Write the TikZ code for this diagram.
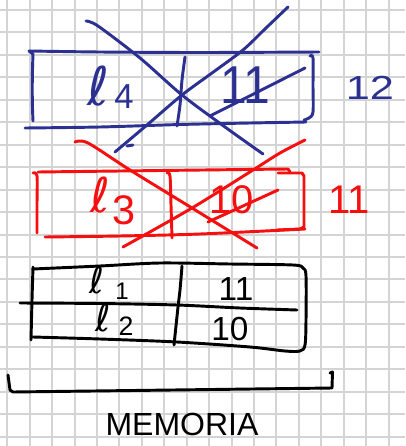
\documentclass[tikz,border=0pt]{standalone}
\usepackage{fontspec}
\setmainfont{Liberation Sans}
\newfontfamily\ellfont{DejaVu Sans}
\definecolor{penblue}{RGB}{44,48,145}
\definecolor{penred}{RGB}{245,15,15}
\definecolor{gridgray}{RGB}{212,212,212}
\tikzset{
 pen/.style={line width=2.2pt, line cap=round, line join=round},
 hw/.style={inner sep=0pt, outer sep=0pt, anchor=center},
 gridline/.style={gridgray, line width=1.5pt}
}
\newcommand{\hsz}[1]{\fontsize{#1}{#1}\selectfont}
\begin{document}
\begin{tikzpicture}[x=0.75pt,y=-0.75pt]
\useasboundingbox (0,0) rectangle (405,446);
\fill[white] (0,0) rectangle (405,446);
\foreach \k in {0,...,17} \draw[gridline] ({7.3+22.43*\k},0) -- ({7.3+22.43*\k},446);
\foreach \k in {0,...,19} \draw[gridline] (0,{10+22.45*\k}) -- (405,{10+22.45*\k});

% ---------- blue (crossed out) ----------
\begin{scope}[penblue, pen]
\draw plot[smooth, tension=0.5] coordinates {(29,51)(100,52)(200,52.5)(319,52)};
\draw (29,51) -- (33,54) .. controls (32,80) and (32,100) .. (33,121);
\draw plot[smooth] coordinates {(310,56)(313,58)(313,85)(313,112)(309,118)(304,120)};
\draw plot[smooth] coordinates {(25,128)(100,127)(180,124.5)(250,123)(306,122)};
\draw plot[smooth] coordinates {(185,57)(182,80)(180,105)(177,126)};
\draw plot[smooth] coordinates {(86,21)(98,26)(140,58)(182,95)(225,127)(263,154)};
\draw plot[smooth] coordinates {(288,7)(266,28)(243,50)(212,73)(182,95)(147,125)(115,152)};
\draw (127,146) -- (133,145);
\draw (305,68) -- (210,116);
\end{scope}
\node[hw, text=penblue] (l4) at (99,86) {\ellfont\hsz{40}ℓ};
\node[hw, text=penblue] (s4) at (124,97) {\hsz{26}4};
\node[hw, text=penblue, xscale=0.9] (b11) at (245,85) {\hsz{40}11};
\node[hw, text=penblue, xscale=1.3] (b12) at (370,88) {\hsz{25}12};

% ---------- red (crossed out) ----------
\begin{scope}[penred, pen]
\draw plot[smooth] coordinates {(33,173)(37,176)(37,205)(37,233)};
\draw (38,172) .. controls (120,171) and (200,170) .. (288,169) -- (290,172);
\draw (278,173) -- (302,173) -- (304,176) -- (304,227) -- (300,229) -- (277,230);
\draw plot[smooth] coordinates {(45,237)(120,236)(200,234)(305,229)};
\draw plot[smooth] coordinates {(167,173)(170,176)(171,205)(172,238)};
\draw plot[smooth] coordinates {(75,142)(88,143)(130,170)(192,208)(257,248)};
\draw plot[smooth] coordinates {(305,140)(280,153)(253,170)(192,208)(123,247)};
\draw (278,190) -- (208,222);
\end{scope}
\node[hw, text=penred] (l3) at (100,195) {\ellfont\hsz{36}ℓ};
\node[hw, text=penred] (s3) at (124,210) {\hsz{31}3};
\node[hw, text=penred] (r10) at (232,200) {\hsz{30}10};
\node[hw, text=penred] (r11) at (349,200) {\hsz{30}11};

% ---------- black (memory) ----------
\begin{scope}[black, pen]
\draw plot[smooth] coordinates {(33,269)(100,266)(160,263)(230,264)(293,265)(303,268)(306,276)(306,320)(305,345)(300,351)(285,351)(250,347)(177,342)(100,339)(33,337)};
\draw plot[smooth] coordinates {(33,267)(32,300)(31,340)};
\draw plot[smooth] coordinates {(20,303)(100,303.5)(177,305)(240,308)(297,310)};
\draw plot[smooth] coordinates {(182,266)(180,290)(178,307)(174,345)};
\draw (8,375) -- (10,390) -- (13,392) -- (332,388) -- (332.5,372) -- (330,373);
\end{scope}
\node[hw] (l1) at (97,280) {\ellfont\hsz{27}ℓ};
\node[hw] (s1) at (122,291) {\hsz{18}1};
\node[hw] (l2) at (103,318) {\ellfont\hsz{28}ℓ};
\node[hw] (s2) at (126,326) {\hsz{20}2};
\node[hw] (k11) at (236,289) {\hsz{25}11};
\node[hw] (k10) at (230,329) {\hsz{25}10};
\node[hw] (mem) at (182,424) {\hsz{24}MEMORIA};
\end{tikzpicture}
\end{document}
